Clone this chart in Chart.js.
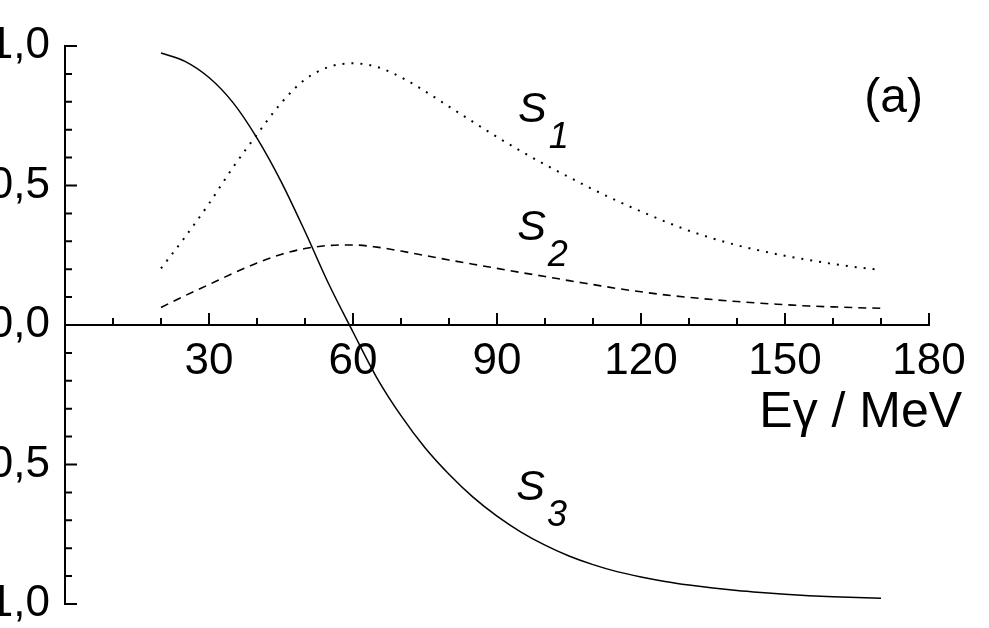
<!DOCTYPE html>
<html><head><meta charset="utf-8">
<script src="https://cdn.jsdelivr.net/npm/chart.js@4.4.1/dist/chart.umd.min.js"></script>
<style>
html,body{margin:0;padding:0;background:#fff;overflow:hidden;width:989px;height:628px;}
#wrap{position:absolute;left:-35px;top:0;width:1024px;height:628px;}
</style></head><body>
<div id="wrap"><canvas id="c"></canvas></div>
<script>
// ---- data ----
const energies = [20,25,30,35,40,45,50,55,60,65,70,75,80,85,90,95,100,105,110,115,120,125,130,135,140,145,150,155,160,165,170];
const s1 = [0.203,0.315,0.435,0.565,0.683,0.795,0.880,0.925,0.938,0.925,0.888,0.838,0.783,0.728,0.674,0.623,0.575,0.530,0.486,0.445,0.407,0.371,0.338,0.310,0.286,0.266,0.248,0.233,0.219,0.207,0.197];
const s2 = [0.063,0.105,0.145,0.185,0.222,0.253,0.274,0.285,0.287,0.279,0.265,0.249,0.233,0.218,0.203,0.188,0.174,0.159,0.145,0.131,0.119,0.108,0.099,0.091,0.084,0.078,0.073,0.068,0.065,0.062,0.060];
const s3 = [0.975,0.945,0.887,0.797,0.670,0.515,0.335,0.145,-0.025,-0.190,-0.325,-0.440,-0.535,-0.617,-0.685,-0.742,-0.789,-0.828,-0.859,-0.884,-0.903,-0.919,-0.932,-0.943,-0.952,-0.959,-0.965,-0.970,-0.974,-0.977,-0.979];
const xMajorTicks = [30,60,90,120,150,180];
const yMajorTicks = [-1.0,-0.5,0.0,0.5,1.0];
const xAxisTitle = 'Eγ / MeV';
const panelLabel = '(a)';
const curveLabels = [
  {main:'S', sub:'1', x:94.4, y:0.728},
  {main:'S', sub:'2', x:94.2, y:0.305},
  {main:'S', sub:'3', x:94.0, y:-0.627}
];

const FONT = '"Liberation Sans", Arial, Helvetica, sans-serif';
const pts = arr => energies.map((e,i)=>({x:e, y:arr[i]}));

const axesPlugin = {
  id:'axesPlugin',
  afterDatasetsDraw(chart){
    const {ctx, scales:{x, y}} = chart;
    const y0 = y.getPixelForValue(0);
    const xl = x.getPixelForValue(0), xr = x.getPixelForValue(180);
    ctx.save();
    ctx.strokeStyle = '#000'; ctx.lineWidth = 2; ctx.lineCap = 'butt';
    ctx.beginPath();
    ctx.moveTo(xl-1, y0); ctx.lineTo(xr+1, y0);
    ctx.moveTo(xl, y.getPixelForValue(1)-1); ctx.lineTo(xl, y.getPixelForValue(-1)+1);
    for (let v=10; v<=180; v+=10){
      const len = xMajorTicks.includes(v) ? 12 : 7;
      const px = x.getPixelForValue(v);
      ctx.moveTo(px, y0); ctx.lineTo(px, y0-len);
    }
    for (let i=-10; i<=10; i++){
      if (i===0) continue;
      const v = i/10;
      const len = (i%5===0) ? 12 : 7;
      const py = y.getPixelForValue(v);
      ctx.moveTo(xl, py); ctx.lineTo(xl+len, py);
    }
    ctx.stroke();

    ctx.fillStyle = '#000';
    ctx.textBaseline = 'alphabetic';
    // axis title
    ctx.font = '50px ' + FONT; ctx.textAlign = 'right';
    ctx.fillText(xAxisTitle, x.getPixelForValue(186.9), y.getPixelForValue(-0.366));
    // panel label
    ctx.font = '48px ' + FONT; ctx.textAlign = 'left';
    ctx.fillText(panelLabel, x.getPixelForValue(166.5), y.getPixelForValue(0.763));
    // curve labels
    curveLabels.forEach(l=>{
      const px = x.getPixelForValue(l.x), py = y.getPixelForValue(l.y);
      ctx.font = 'italic 43px ' + FONT; ctx.textAlign = 'left';
      ctx.fillText(l.main, px, py);
      const w = ctx.measureText(l.main).width;
      ctx.font = 'italic 36px ' + FONT;
      ctx.fillText(l.sub, px + w + 2, py + 26);
    });
    ctx.restore();
  }
};

new Chart(document.getElementById('c'), {
  type:'line',
  data:{datasets:[
    {label:'S1', data:pts(s1), borderColor:'#000', borderWidth:2, borderDash:[2,7], pointRadius:0, cubicInterpolationMode:'monotone', fill:false},
    {label:'S2', data:pts(s2), borderColor:'#000', borderWidth:1.6, borderDash:[8,6], pointRadius:0, cubicInterpolationMode:'monotone', fill:false},
    {label:'S3', data:pts(s3), borderColor:'#000', borderWidth:1.5, pointRadius:0, cubicInterpolationMode:'monotone', fill:false}
  ]},
  options:{
    responsive:true, maintainAspectRatio:false, animation:false, devicePixelRatio:1,
    layout:{padding:{top:46, bottom:24, left:0, right:60}},
    plugins:{legend:{display:false}, tooltip:{enabled:false}},
    scales:{
      x:{type:'linear', min:0, max:180, position:{y:0},
        grid:{display:false, drawTicks:false, tickLength:0}, border:{display:false},
        afterBuildTicks: s => { s.ticks = [0, ...xMajorTicks].map(v=>({value:v})); },
        afterFit: s => { s.paddingLeft = 0; s.paddingRight = 0; s.paddingTop = 0; s.paddingBottom = 0; },
        ticks:{color:'#000', font:{family:FONT, size:44}, padding:10, maxRotation:0, autoSkip:false,
          callback: v => v===0 ? '' : String(v)}
      },
      y:{type:'linear', min:-1, max:1, position:'left',
        grid:{display:false, drawTicks:false, tickLength:0}, border:{display:false},
        afterBuildTicks: s => { s.ticks = yMajorTicks.map(v=>({value:v})); },
        afterFit: s => { s.width = 100; s.paddingTop = 0; s.paddingBottom = 0; },
        ticks:{color:'#000', font:{family:FONT, size:44}, padding:15, autoSkip:false,
          callback: v => Number(v).toFixed(1).replace('.', ',')}
      }
    }
  },
  plugins:[axesPlugin]
});
</script>
</body></html>
